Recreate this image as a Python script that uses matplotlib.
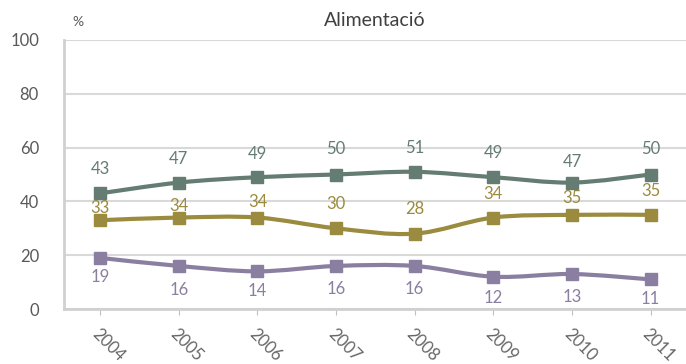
import numpy as np
import matplotlib.pyplot as plt
from matplotlib.path import Path
from matplotlib.patches import PathPatch

years = ["2004", "2005", "2006", "2007", "2008", "2009", "2010", "2011"]
serie_verda = [43, 47, 49, 50, 51, 49, 47, 50]
serie_daurada = [33, 34, 34, 30, 28, 34, 35, 35]
serie_lila = [19, 16, 14, 16, 16, 12, 13, 11]

plt.rcParams['font.family'] = ['Lato', 'DejaVu Sans']
GRAY = "#595959"


def smooth_path(x, y, t=1 / 6):
    # bezier segments through the points (Excel-like smoothed line)
    x = np.asarray(x, float)
    y = np.asarray(y, float)
    verts = [(x[0], y[0])]
    codes = [Path.MOVETO]
    n = len(x)
    for i in range(n - 1):
        x0, y0 = (x[i - 1], y[i - 1]) if i > 0 else (x[i], y[i])
        x3, y3 = (x[i + 2], y[i + 2]) if i + 2 < n else (x[i + 1], y[i + 1])
        c1 = (x[i] + (x[i + 1] - x0) * t, y[i] + (y[i + 1] - y0) * t)
        c2 = (x[i + 1] - (x3 - x[i]) * t, y[i + 1] - (y3 - y[i]) * t)
        verts += [c1, c2, (x[i + 1], y[i + 1])]
        codes += [Path.CURVE4] * 3
    return Path(verts, codes)


fig = plt.figure(figsize=(6.86, 3.64), dpi=100)
ax = fig.add_axes([64 / 686, 55 / 364, 622 / 686, 269 / 364])

x = np.arange(len(years))
# label offsets in pixels (positive = above the marker)
series = [
    (serie_verda, "#647C72", [24, 24, 23, 25, 24, 24, 21, 25]),
    (serie_daurada, "#9B8B3E", [12, 12, 16, 24, 25, 24, 17, 24]),
    (serie_lila, "#8A7FA0", [-19, -24, -20, -23, -23, -21, -23, -20]),
]
for vals, col, offs in series:
    ax.add_patch(PathPatch(smooth_path(x, vals), fill=False, edgecolor=col,
                           lw=3, zorder=3, capstyle='round'))
    ax.plot(x, vals, ls='none', marker='s', ms=8, color=col, zorder=4)
    for xi, v, off in zip(x, vals, offs):
        ax.annotate(str(v), (xi, v), xytext=(0, off * 0.72), textcoords='offset points',
                    ha='center', va='center', fontsize=12, color=col)

ax.set_xlim(-0.46, 7.45)
ax.set_ylim(0, 100)
ax.set_yticks(range(0, 101, 20))
ax.yaxis.grid(True, color="#D9D9D9", lw=1.5)
ax.set_axisbelow(True)
ax.set_xticks(x)
ax.set_xticklabels(years, rotation=-45, ha='left', va='top', rotation_mode='anchor')
ax.tick_params(axis='x', length=4, color="#BFBFBF", labelsize=12, labelcolor="#666666", pad=8)
ax.tick_params(axis='y', length=0, labelsize=12, labelcolor=GRAY, pad=18)
for s in ['top', 'right']:
    ax.spines[s].set_visible(False)
for s in ['left', 'bottom']:
    ax.spines[s].set_color("#D0D0D0")
    ax.spines[s].set_linewidth(2)

fig.text(375 / 686, 1 - 20 / 364, "Alimentació", ha='center', va='center',
         fontsize=14, color="#404040")
fig.text(78 / 686, 1 - 22 / 364, "%", ha='center', va='center', fontsize=10, color=GRAY)

fig.savefig("out.png", dpi=100)
